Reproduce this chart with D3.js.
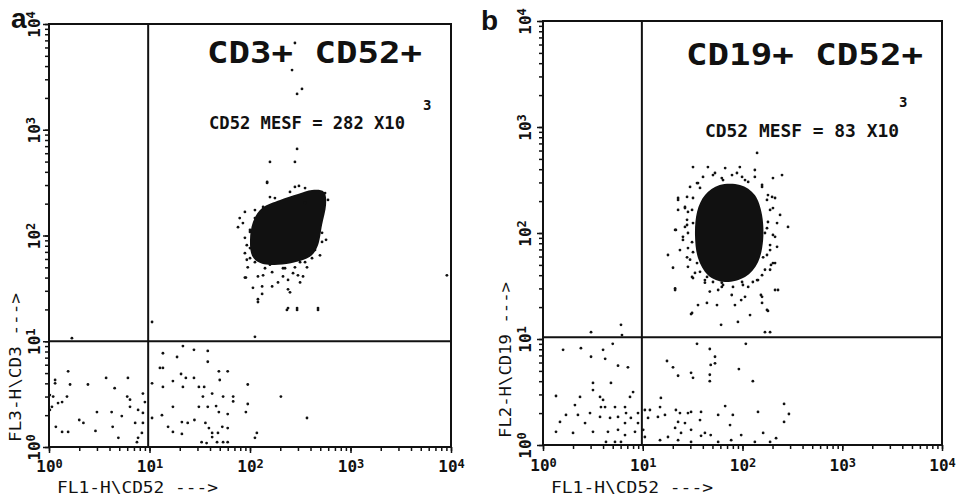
<!DOCTYPE html>
<html>
<head>
<meta charset="utf-8">
<style>
body { margin: 0; background: #fff; }
svg { display: block; }
</style>
</head>
<body>
<svg id="chart" width="957" height="497"></svg>
<script src="https://cdn.jsdelivr.net/npm/d3@7"></script>
<script>
// log axes, four decades
var decades = [1, 10, 100, 1000, 10000];
var exponents = ["0", "1", "2", "3", "4"];

// panel a : FL1-H CD52 vs FL3-H CD3
var titleA = "CD3+ CD52+";
var mesfA = "CD52 MESF = 282 X10";
var gateA = [9.7, 10];
// outline of the solid core of the cluster
var coreA = [[132,182],[199,217],[300,247],[414,269],[545,258],[571,194],[521,126],[475,81],
  [395,63],[280,56],[190,53],[132,54],[105,64],[100,91],[107,134]];
var eventsA = [
  // lower left
  [1.55,5.2],[1.15,4.3],[1.15,4.0],[1.62,3.9],[2.44,3.9],[3.7,4.5],[6.1,4.5],[4.5,3.6],[1.02,3.1],[1.10,3.0],
  [1.35,2.66],[1.51,3.0],[1.23,2.6],[6.0,3.0],[6.4,2.8],[8.6,3.2],[9.0,2.66],[3.0,2.14],[4.2,2.14],[6.4,2.4],
  [7.7,2.24],[8.6,2.1],[1.02,2.24],[1.07,2.4],[2.0,1.8],[2.2,1.69],[1.17,1.55],[1.35,1.39],[1.55,1.39],[2.9,1.42],
  [4.3,1.55],[5.3,1.96],[7.2,1.69],[8.6,1.69],[4.9,1.22],[7.5,1.11],[7.7,1.22],[8.4,1.36],
  // lower right
  [13.6,7.7],[21.5,9.0],[27.7,8.3],[38,8.1],[18.8,7.1],[38,6.4],[12.7,5.6],[13.6,5.6],[20.6,4.9],[23,4.5],
  [27.7,4.5],[49,5.2],[60,5.2],[10.6,4.0],[13.6,3.7],[17.1,4.2],[21.5,3.7],[31,3.7],[35,3.7],[50,4.3],
  [54,3.0],[68,3.0],[68,2.7],[95,3.9],[34,3.0],[42,3.2],[17.1,2.4],[31,2.4],[38,2.4],[46,2.44],
  [49,2.14],[60,2.05],[95,2.55],[91,2.14],[203,3.0],[369,1.88],[10.6,1.88],[13.3,2.0],[15.3,1.55],[21,1.72],
  [24,1.69],[28,1.8],[17.1,1.39],[21,1.33],[36,1.69],[39,1.51],[42,1.36],[48,1.36],[53,1.55],[60,1.51],
  [33,1.11],[42,1.24],[47,1.11],[54,1.11],[60,1.11],[117,1.36],[112,1.22],[37,1.09],
  // upper quadrants, around the cluster
  [148,321],[280,288],[307,294],[158,231],[558,252],[533,226],[135,186],[112,174],[89,167],[79,146],
  [76,120],[85,131],[89,95],[521,106],[521,87],[100,76],[89,68],[93,59],[95,50],[89,40],
  [120,41],[166,45],[213,41],[239,38],[300,42],[337,41],[280,50],[132,33],[239,31],[120,25],
  [239,20.6],[294,20.6],[475,20.6],[190,36],[213,49],[369,50],[414,61],[262,3670],[329,2430],[294,2180],
  [280,6610],[294,658],[158,496],[280,496],[148,314],[233,19.8],[294,19.8],[475,19.8],[120,23.5],[132,28],
  [250,29],[112,11],[315,36],[107,32],[91,40],[135,42],[268,44],[166,33],[1.69,10.7],[10.6,15.2],
  [9100,42],[100,108],[353,203],[443,73],[141,49],[315,56],
  // dense fringe of the cluster
  [112,56],[100,61],[93,81],[100,113],[112,146],[177,226],[250,258],[353,281],[597,217],[571,91],
  [497,65],[353,56],[223,49],[158,53]
];

// panel b : FL1-H CD52 vs FL2-H CD19
var titleB = "CD19+ CD52+";
var mesfB = "CD52 MESF = 83 X10";
var gateB = [9.8, 10.4];
var coreB = [[42.1,228],[59,284],[94.4,284],[133,228],[157,148],[161,86],[143,53],[106,38.5],
  [66.8,34.5],[45.1,40],[35.8,58],[33.4,96],[35,158]];
var eventsB = [
  // upper right
  [140,569],[31.9,419],[45,419],[67,410],[94,419],[133,393],[249,352],[202,330],[53,368],[88,368],
  [29.8,272],[26.5,176],[22.6,214],[22.6,165],[28.4,158],[21.1,107],[27.8,119],[198,219],[202,172],[180,127],
  [238,148],[212,92],[189,69],[17.9,62],[23.6,69],[27.8,59],[20.1,47],[28.4,48],[31.2,38.5],[202,52],
  [168,45],[143,36],[114,31],[21.1,30],[47,28],[57,29],[78,26],[106,25],[157,25],[212,29],
  [35.8,20.9],[44,21.9],[55.5,20.9],[84,20.9],[157,21.9],[31.2,17.6],[119,16.8],[176,18.8],[42,36],[62,34],
  [21.1,29],[30.5,17.2],[61,13.6],[90,14.5],[180,18.4],[168,11.6],[189,11.6],[227,29],[193,50],[97,23.3],
  [153,26],[286,114],[21.5,107],[22.6,205],[35.8,296],[62,330],[106,316],[157,272],[176,205],[26.5,114],
  [25.3,86],[168,100],[161,59],[33.4,42],[99,34.5],[62,31],[42,34],
  // dense fringe of the cluster
  [40.2,338],[50.6,352],[78.5,352],[99,338],[133,338],[35,296],[37.5,266],[157,284],[63.8,316],[114,303],
  [31.9,214],[27.8,219],[31.2,165],[26.5,172],[27.8,133],[31.9,124],[28.4,100],[31.2,82],[28.4,72],[31.9,66],
  [29.8,56],[35,52],[25.3,92],[180,228],[212,214],[189,165],[222,124],[176,111],[202,96],[189,77],
  [222,74],[176,62],[212,52],[189,45],[37.5,43],[44.1,38.5],[50.6,34.5],[63.8,32.3],[80.3,31],[101,32.3],
  [127,34.5],[157,40],[140,36],[31.9,37.6],
  // upper left
  [6.05,13.6],[3.03,11.6],[6.19,10.9],
  // lower left
  [1.59,7.9],[2.4,8.2],[3.03,6.8],[4.0,7.9],[4.2,6.5],[5.0,9.0],[5.65,5.6],[7.1,5.4],[1.35,2.9],[2.09,2.38],
  [2.35,2.84],[3.17,3.85],[3.17,3.3],[3.73,2.84],[4.0,2.66],[4.19,2.28],[4.8,3.85],[5.27,2.28],[6.64,2.28],[8.0,3.16],
  [7.45,2.84],[6.8,2.0],[5.65,1.84],[4.7,1.8],[3.73,1.84],[2.96,2.0],[2.24,1.92],[2.64,1.61],[1.7,1.92],[1.48,1.65],
  [1.35,1.33],[2.0,1.3],[3.17,1.33],[4.48,1.33],[5.65,1.39],[6.64,1.24],[8.36,1.33],[8.96,1.61],[8.96,2.0],[7.6,1.8],
  [4.28,1.07],[5.27,1.07],[6.05,1.07],[6.64,1.61],[3.81,2.28],
  // lower right
  [35,9.0],[47,8.05],[53,6.8],[53,5.9],[48,5.7],[17.5,6.2],[20.1,5.4],[22.6,4.5],[30.5,4.8],[31.9,4.3],
  [47,4.6],[47,4.0],[92,5.2],[127,4.0],[108,9.0],[15.2,2.78],[14.9,2.28],[14.2,1.84],[16.7,1.92],[11.3,1.8],
  [11.8,2.14],[21.5,2.14],[23.6,2.0],[28.4,2.0],[30.5,2.05],[22.6,1.65],[26.5,1.61],[21.1,1.45],[24.2,1.3],[30.5,1.39],
  [37.5,1.72],[38.4,2.05],[42,1.3],[48,1.24],[67,2.33],[57,1.92],[75,1.54],[80,1.92],[97,1.24],[143,2.05],
  [161,1.3],[261,2.44],[292,1.96],[261,1.65],[10.1,1.39],[10.5,1.19],[14.9,1.11],[17.9,1.19],[22.6,1.11],[30.5,1.07],
  [38.4,1.22],[57,1.07],[77,1.11],[133,1.07],[189,1.07],[217,1.16],[10.5,2.14]
];

var mono = "'DejaVu Sans Mono', monospace";
var ink = "#111";

var svg = d3.select("#chart");

var minorTicks = [];
decades.slice(0, 4).forEach(function(d) {
  for (var k = 1; k < 10; k++) minorTicks.push(d * k);
});
minorTicks.push(10000);

function drawPanel(p) {
  var x = d3.scaleLog().domain([1, 10000]).range([p.x0, p.x1]);
  var y = d3.scaleLog().domain([1, 10000]).range([p.y0, p.y1]);
  var g = svg.append("g");

  // minor ticks
  g.append("g")
      .attr("transform", "translate(0," + p.y0 + ")")
      .call(d3.axisBottom(x).tickValues(minorTicks).tickSize(4).tickSizeOuter(0).tickFormat(""))
      .call(styleAxis);
  g.append("g")
      .attr("transform", "translate(" + p.x0 + ",0)")
      .call(d3.axisLeft(y).tickValues(minorTicks).tickSize(4).tickSizeOuter(0).tickFormat(""))
      .call(styleAxis);

  // decades with labels
  var xa = g.append("g")
      .attr("transform", "translate(0," + p.y0 + ")")
      .call(d3.axisBottom(x).tickValues(decades).tickSize(6).tickSizeOuter(0).tickFormat(""))
      .call(styleAxis);
  xa.selectAll(".tick").append("text")
      .attr("y", p.xLabelY)
      .call(powerLabel);

  var ya = g.append("g")
      .attr("transform", "translate(" + p.x0 + ",0)")
      .call(d3.axisLeft(y).tickValues(decades).tickSize(6).tickSizeOuter(0).tickFormat(""))
      .call(styleAxis);
  ya.selectAll(".tick").append("text")
      .attr("transform", "translate(" + (-p.yLabelOff) + ",0) rotate(-90)")
      .attr("dy", "0.35em")
      .call(powerLabel);

  // frame and quadrant gates
  g.append("rect")
      .attr("x", p.x0).attr("y", p.y1)
      .attr("width", p.x1 - p.x0).attr("height", p.y0 - p.y1)
      .attr("fill", "none").attr("stroke", ink).attr("stroke-width", 2);
  g.append("line")
      .attr("x1", x(p.gate[0])).attr("x2", x(p.gate[0]))
      .attr("y1", p.y0).attr("y2", p.y1)
      .attr("stroke", ink).attr("stroke-width", 2);
  g.append("line")
      .attr("x1", p.x0).attr("x2", p.x1)
      .attr("y1", y(p.gate[1])).attr("y2", y(p.gate[1]))
      .attr("stroke", ink).attr("stroke-width", 2);

  // events
  g.append("path")
      .datum(p.core)
      .attr("fill", ink)
      .attr("d", d3.line()
        .x(function(d) { return x(d[0]); })
        .y(function(d) { return y(d[1]); })
        .curve(d3.curveCardinalClosed));
  g.selectAll("circle.ev")
      .data(p.events)
    .enter().append("circle")
      .attr("class", "ev")
      .attr("cx", function(d) { return x(d[0]); })
      .attr("cy", function(d) { return y(d[1]); })
      .attr("r", 1.4)
      .attr("fill", ink);

  // texts
  g.append("text")
      .attr("x", p.title[0]).attr("y", p.title[1])
      .attr("textLength", p.title[2]).attr("lengthAdjust", "spacingAndGlyphs")
      .attr("font-family", mono).attr("font-weight", "bold").attr("font-size", 31)
      .attr("fill", ink)
      .text(p.titleText);
  g.append("text")
      .attr("x", p.mesf[0]).attr("y", p.mesf[1])
      .attr("textLength", p.mesf[2]).attr("lengthAdjust", "spacingAndGlyphs")
      .attr("font-family", mono).attr("font-weight", "bold").attr("font-size", 18)
      .attr("fill", ink)
      .text(p.mesfText);
  g.append("text")
      .attr("x", p.sup[0]).attr("y", p.sup[1])
      .attr("font-family", mono).attr("font-weight", "bold").attr("font-size", 14)
      .attr("fill", ink)
      .text("3");
  g.append("text")
      .attr("x", p.letter[0]).attr("y", p.letter[1])
      .attr("font-family", "'Liberation Sans', Arial, sans-serif").attr("font-weight", "bold")
      .attr("font-size", 28).attr("fill", ink)
      .text(p.letterText);
  g.append("text")
      .attr("x", p.xTitle[0]).attr("y", p.xTitle[1])
      .attr("textLength", p.xTitle[2]).attr("lengthAdjust", "spacingAndGlyphs")
      .attr("font-family", mono).attr("font-size", 16).attr("fill", ink)
      .text("FL1-H\\CD52 --->");
  g.append("text")
      .attr("transform", "translate(" + p.yTitle[0] + "," + p.yTitle[1] + ") rotate(-90)")
      .attr("textLength", p.yTitle[2]).attr("lengthAdjust", "spacingAndGlyphs")
      .attr("font-family", mono).attr("font-size", 16).attr("fill", ink)
      .text(p.yTitleText);
}

function styleAxis(g) {
  g.select(".domain").remove();
  g.selectAll(".tick line").attr("stroke", ink).attr("stroke-width", 1.5);
}

function powerLabel(t) {
  t.attr("fill", ink)
      .attr("font-family", mono)
      .attr("font-weight", "bold")
      .attr("font-size", 16)
      .attr("text-anchor", "middle")
      .text("10")
    .append("tspan")
      .attr("dy", "-0.35em")
      .attr("font-size", 12)
      .text(function(d) { return exponents[decades.indexOf(d)]; });
}

drawPanel({
  x0: 49, x1: 451, y0: 447, y1: 24,
  xLabelY: 25, yLabelOff: 15,
  gate: gateA, core: coreA, events: eventsA,
  titleText: titleA, title: [207, 63, 215],
  mesfText: mesfA, mesf: [209, 129, 196], sup: [423, 110],
  letterText: "a", letter: [11, 28],
  xTitle: [57, 493, 161],
  yTitleText: "FL3-H\\CD3 --->", yTitle: [21, 442, 149]
});

drawPanel({
  x0: 543, x1: 942, y0: 445, y1: 21,
  xLabelY: 26, yLabelOff: 18,
  gate: gateB, core: coreB, events: eventsB,
  titleText: titleB, title: [686, 65, 237],
  mesfText: mesfB, mesf: [705, 137, 194], sup: [899, 107],
  letterText: "b", letter: [481, 30],
  xTitle: [551, 493, 162],
  yTitleText: "FL2-H\\CD19 --->", yTitle: [511, 438, 156]
});
</script>
</body>
</html>
